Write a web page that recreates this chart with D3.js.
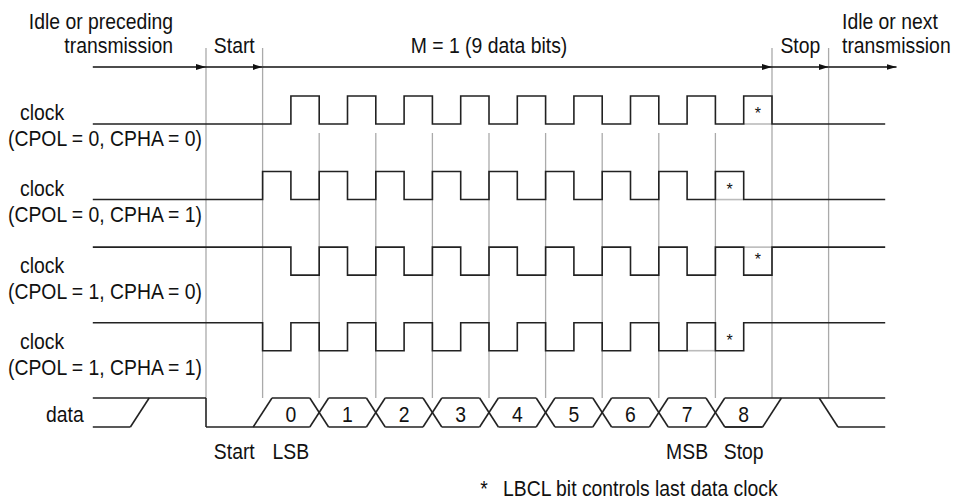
<!DOCTYPE html>
<html>
<head>
<meta charset="utf-8">
<script src="https://cdn.jsdelivr.net/npm/d3@7"></script>
<style>
  body { margin: 0; background: #fff; }
  text { font-family: "Liberation Sans", Arial, sans-serif; fill: #111; }
</style>
</head>
<body>
<div id="chart"></div>
<script>
// labels and waveforms (time in bit periods, 0 = start of Start bit)
var rowLabels = ["(CPOL = 0, CPHA = 0)", "(CPOL = 0, CPHA = 1)", "(CPOL = 1, CPHA = 0)", "(CPOL = 1, CPHA = 1)"];
var bitLabels = ["0", "1", "2", "3", "4", "5", "6", "7", "8"];

// clock levels per half bit, from t = -2 to t = 12
var clk0 = [0,0,0,0,0,0,0, 1,0,1,0,1,0,1,0,1,0,1,0,1,0,1,0,1, 0,0,0,0];
var clk1 = [0,0,0,0,0,0, 1,0,1,0,1,0,1,0,1,0,1,0,1,0,1,0,1, 0,0,0,0,0];
var clk2 = [1,1,1,1,1,1,1, 0,1,0,1,0,1,0,1,0,1,0,1,0,1,0,1,0, 1,1,1,1];
var clk3 = [1,1,1,1,1,1, 0,1,0,1,0,1,0,1,0,1,0,1,0,1,0,1,0, 1,1,1,1,1];
var clocks = [clk0, clk1, clk2, clk3];

// last data clock (LBCL): half-bit index of the starred pulse, and the grey alternative
var starCell = [23, 22, 23, 22];
var starShift = [0, 0, -5, 0];
var altCell = [23, 22, 23, 21];
var altLevel = [0, 0, 1, 0];

// frame markers along the top
var arrowStops = [[-2, 0], [0, 1], [1, 10], [10, 11], [11, 12.2]];
var fullGuides = [0, 1, 10, 11];
var innerGuides = [2, 3, 4, 5, 6, 7, 8, 9];
var bottomLabels = [["Start", 0.5], ["LSB", 1.5], ["MSB", 8.5], ["Stop", 9.5]];

var width = 958, height = 501;
var svg = d3.select("#chart").append("svg")
  .attr("width", width).attr("height", height);

var x = d3.scaleLinear().domain([-2, 12]).range([92.8, 885.2]);
var rowTop = d3.scaleLinear().domain([0, 3]).range([96, 322.7]);
var pulseH = 28;
var dataTop = 398, dataBot = 427;
var h = 0.166; // half width of data crossings, in bits

function label(s, xx, yy, anchor, size) {
  return svg.append("text")
    .attr("transform", "translate(" + xx + "," + yy + ") scale(0.88,1)")
    .attr("text-anchor", anchor || "start")
    .style("font-size", (size || 22) + "px")
    .text(s);
}

// grey guide lines
svg.selectAll(".guideFull").data(fullGuides).enter().append("line")
  .attr("x1", d => x(d)).attr("x2", d => x(d))
  .attr("y1", 48).attr("y2", dataTop)
  .attr("stroke", "#aaa").attr("stroke-width", 1.3);
svg.selectAll(".guideInner").data(innerGuides).enter().append("line")
  .attr("x1", d => x(d)).attr("x2", d => x(d))
  .attr("y1", 133).attr("y2", dataTop)
  .attr("stroke", "#aaa").attr("stroke-width", 1.3);

// arrow line at the top
svg.append("defs").append("marker")
  .attr("id", "arr").attr("viewBox", "0 0 10 6")
  .attr("refX", 10).attr("refY", 3)
  .attr("markerWidth", 10).attr("markerHeight", 6)
  .attr("markerUnits", "userSpaceOnUse").attr("orient", "auto")
  .append("path").attr("d", "M0,0L10,3L0,6Z").attr("fill", "#111");
svg.selectAll(".arrow").data(arrowStops).enter().append("line")
  .attr("x1", d => x(d[0])).attr("x2", d => x(d[1]))
  .attr("y1", 67).attr("y2", 67)
  .attr("stroke", "#111").attr("stroke-width", 1.5)
  .attr("marker-end", "url(#arr)");

// clock waveforms
var line = d3.line().curve(d3.curveStepAfter);
clocks.forEach(function(lv, r) {
  var top = rowTop(r);
  var yl = v => top + (1 - v) * pulseH;
  var pts = lv.map((v, i) => [x(-2 + i / 2), yl(v)]);
  pts.push([x(12), yl(lv[lv.length - 1])]);

  // grey alternative for the last data clock
  var a = altCell[r];
  svg.append("line")
    .attr("x1", x(-2 + a / 2)).attr("x2", x(-2 + (a + 1) / 2))
    .attr("y1", yl(altLevel[r])).attr("y2", yl(altLevel[r]))
    .attr("stroke", "#bbb").attr("stroke-width", 1.6);

  svg.append("path").attr("d", line(pts))
    .attr("fill", "none").attr("stroke", "#222").attr("stroke-width", 1.6);

  var s = starCell[r];
  svg.append("text")
    .attr("x", x(-2 + (s + 0.5) / 2))
    .attr("y", top + pulseH / 2 + 9 + starShift[r])
    .attr("text-anchor", "middle")
    .style("font-size", "16px")
    .text("*");

  label("clock", 20, 120 + r * 76.3);
  label(rowLabels[r], 8, 146 + r * 76.3);
});

// data line
var seg = [];
function S(t1, y1, t2, y2) { seg.push([[x(t1), y1], [x(t2), y2]]); }
S(-2, dataTop, 0, dataTop);
S(-2, dataBot, -1.17 - h, dataBot);
S(-1.17 - h, dataBot, -1.17 + h, dataTop);
S(0, dataTop, 0, dataBot);
S(0, dataBot, 2 - h, dataBot);
S(1 - h, dataBot, 1 + h, dataTop);
bitLabels.forEach(function(b, i) {
  var t0 = i + 1, t1 = i + 2;
  if (i > 0) S(t0 + h, dataBot, t1 - h, dataBot);
  if (i < bitLabels.length - 1) {
    S(t0 + h, dataTop, t1 - h, dataTop);
    S(t1 - h, dataTop, t1 + h, dataBot);
    S(t1 - h, dataBot, t1 + h, dataTop);
  }
});
S(9 + h, dataTop, 11 - h, dataTop);
S(9 + h, dataBot, 10 - h, dataBot);
S(10 - h, dataBot, 10 + h, dataTop);
S(11 - h, dataTop, 12, dataTop);
S(11 - h, dataTop, 11 + h, dataBot);
S(11 + h, dataBot, 12, dataBot);
svg.selectAll(".dseg").data(seg).enter().append("path")
  .attr("d", d => "M" + d[0] + "L" + d[1])
  .attr("stroke", "#222").attr("stroke-width", 1.6).attr("fill", "none");

bitLabels.forEach(function(b, i) {
  label(b, x(i + 1.5), 421.5, "middle");
});
label("data", 46, 421.5);

bottomLabels.forEach(function(d) {
  label(d[0], x(d[1]), 459, "middle");
});

// header texts
label("Idle or preceding", 173, 29, "end");
label("transmission", 173, 53, "end");
label("Start", x(0.5), 53, "middle");
label("M = 1 (9 data bits)", x(5), 53, "middle");
label("Stop", x(10.5), 53, "middle");
label("Idle or next", 842, 29);
label("transmission", 842, 53);

// footnote
label("*", 484, 496, "middle");
label("LBCL bit controls last data clock", 503, 496);
</script>
</body>
</html>
